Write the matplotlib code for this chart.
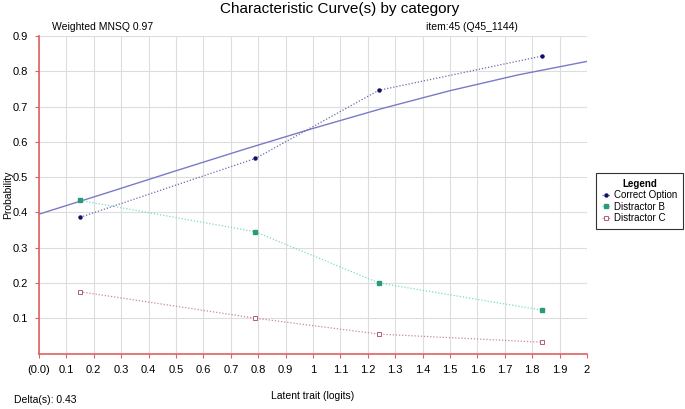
"""Characteristic curves by category for one item."""

import matplotlib
matplotlib.use('Agg')
import matplotlib.pyplot as plt
from matplotlib.lines import Line2D

plt.rcParams['font.family'] = ['Liberation Sans', 'DejaVu Sans']

# model curve
CURVE_X = [0.0, 0.25, 0.5, 0.75, 1.0, 1.25, 1.5, 1.75, 2.0]
CURVE_Y = [0.395, 0.456, 0.518, 0.579, 0.638, 0.694, 0.745, 0.790, 0.828]

# observed group points
GROUP_X = [0.15, 0.79, 1.24, 1.835]
CORRECT = [0.386, 0.553, 0.746, 0.843]
DIST_B = [0.434, 0.345, 0.200, 0.123]
DIST_C = [0.175, 0.100, 0.055, 0.032]
NAMES = ['Correct Option', 'Distractor B', 'Distractor C']

X_TICKS = [i / 10 for i in range(21)]
X_LABELS = ['(0.0)'] + [f'{t:g}' for t in X_TICKS[1:]]
Y_TICKS = [i / 10 for i in range(1, 10)]

RED = '#e06060'
GRID = '#dddddd'
DOTS = (0, (1, 1.5))
STYLES = [
    dict(color='#6a6aaa', marker='o', ms=2.2, mfc='#10106a', mec='#10106a'),
    dict(color='#7fd8cc', marker='s', ms=2.4, mfc='#2a9a78', mec='#2a9a78'),
    dict(color='#c88a90', marker='s', ms=2.6, mfc='white', mec='#b06070',
         mew=0.7),
]

fig = plt.figure(figsize=(6.85, 4.09), dpi=100)
ax = fig.add_axes([39 / 685, 1 - 353.5 / 409, 548 / 685, 317.5 / 409])

ax.plot(CURVE_X, CURVE_Y, color='#7a7ac8', lw=1.0)
for ys, st in zip([CORRECT, DIST_B, DIST_C], STYLES):
  ax.plot(GROUP_X, ys, ls=DOTS, lw=0.9, **st)

ax.set_xlim(0, 2)
ax.set_ylim(0, 0.9)
ax.set_xticks(X_TICKS)
ax.set_xticklabels(X_LABELS)
ax.set_yticks(Y_TICKS)
ax.set_yticklabels([f'{t:g}' for t in Y_TICKS])
ax.tick_params(labelsize=8, color=RED, length=3, width=0.8, pad=5)
ax.grid(True, color=GRID, lw=0.8)
ax.set_axisbelow(True)
for side in ('top', 'right'):
  ax.spines[side].set_visible(False)
for side in ('left', 'bottom'):
  ax.spines[side].set_color(RED)
  ax.spines[side].set_linewidth(1.2)

fig.text(340 / 685, 1 - 9 / 409, 'Characteristic Curve(s) by category',
         ha='center', va='center', fontsize=11)
fig.text(52 / 685, 1 - 27 / 409, 'Weighted MNSQ 0.97', ha='left',
         va='center', fontsize=7.5)
fig.text(472 / 685, 1 - 27 / 409, 'item:45 (Q45_1144)', ha='center',
         va='center', fontsize=7.5)
fig.text(313 / 685, 1 - 396 / 409, 'Latent trait (logits)', ha='center',
         va='center', fontsize=7.5)
fig.text(14 / 685, 1 - 400 / 409, 'Delta(s): 0.43', ha='left',
         va='center', fontsize=7.5)
fig.text(8 / 685, 1 - 195 / 409, 'Probability', ha='center', va='center',
         rotation=90, fontsize=7.5)

handles = [Line2D([], [], ls=DOTS, lw=0.9, **st) for st in STYLES]
leg = fig.legend(handles, NAMES, title='Legend', loc='upper left',
                 bbox_to_anchor=(596 / 685, 1 - 173 / 409),
                 fontsize=7, title_fontproperties={'weight': 'bold',
                                                   'size': 7},
                 handlelength=0.9, handletextpad=0.3, labelspacing=0.15,
                 borderpad=0.6, borderaxespad=0, fancybox=False,
                 framealpha=1, edgecolor='#333333')
leg.get_frame().set_linewidth(0.8)

fig.savefig('out.png', dpi=100)
